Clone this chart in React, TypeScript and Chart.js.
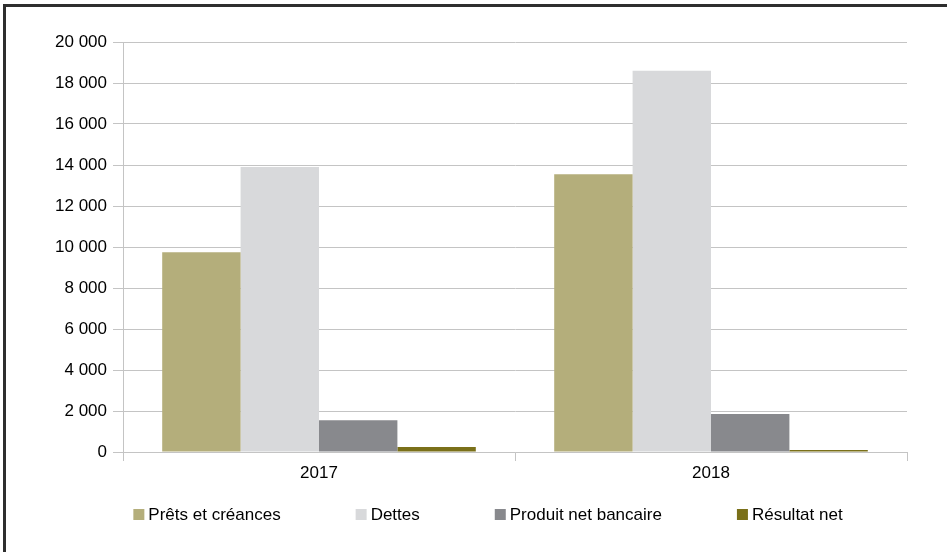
import React, { useEffect, useRef } from "react";
import { Chart, registerables } from "chart.js";

Chart.register(...registerables);

const categories = ["2017", "2018"];
const pretsEtCreances = [9750, 13550];
const dettes = [13900, 18600];
const produitNetBancaire = [1550, 1850];
const resultatNet = [240, 100];
const seriesLabels = ["Prêts et créances", "Dettes", "Produit net bancaire", "Résultat net"];
const seriesColors = ["#b4ae7b", "#d8d9db", "#88898d", "#7a7019"];

const FONT = '"Liberation Sans", Arial, sans-serif';

const fmt = (v: number) => String(v).replace(/\B(?=(\d{3})+(?!\d))/g, " ");

const customLegend = {
  id: "customLegend",
  afterDraw(chart: any) {
    const ctx = chart.ctx;
    ctx.save();
    ctx.font = `17px ${FONT}`;
    ctx.textBaseline = "middle";
    const box = 11;
    const boxGap = 4;
    const itemGap = 75;
    const items = chart.data.datasets.map((d: any) => ({
      label: d.label,
      color: d.backgroundColor,
      w: box + boxGap + ctx.measureText(d.label).width,
    }));
    const total = items.reduce((s: number, it: any) => s + it.w, 0) + itemGap * (items.length - 1);
    let x = 488 - total / 2;
    const y = 515;
    for (const it of items) {
      ctx.fillStyle = it.color;
      ctx.fillRect(x, y - 6, box, box);
      ctx.fillStyle = "#000";
      ctx.fillText(it.label, x + box + boxGap, y);
      x += it.w + itemGap;
    }
    ctx.restore();
  },
};

export default function App() {
  const ref = useRef<HTMLCanvasElement | null>(null);
  useEffect(() => {
    if (!ref.current) return;
    const values = [pretsEtCreances, dettes, produitNetBancaire, resultatNet];
    const chart = new Chart(ref.current, {
      type: "bar",
      data: {
        labels: categories,
        datasets: values.map((v, i) => ({
          label: seriesLabels[i],
          data: v,
          backgroundColor: seriesColors[i],
          borderWidth: 0,
          categoryPercentage: 0.8,
          barPercentage: 1.0,
        })),
      },
      options: {
        animation: false,
        responsive: false,
        maintainAspectRatio: false,
        layout: { padding: { left: 0, right: 40, top: 42, bottom: 60 } },
        plugins: { legend: { display: false }, tooltip: { enabled: false } },
        scales: {
          x: {
            offset: true,
            grid: {
              offset: true,
              drawOnChartArea: true,
              color: (c: any) => (c.index === 2 ? "#c4c4c4" : "rgba(0,0,0,0)"),
              tickColor: "#c4c4c4",
              tickLength: 9,
              lineWidth: 1,
            },
            border: { color: "#c4c4c4", width: 1 },
            ticks: { color: "#000", font: { family: FONT, size: 17 }, padding: 2 },
            afterFit: (s: any) => {
              s.height = 40;
            },
          },
          y: {
            min: 0,
            max: 20000,
            ticks: {
              stepSize: 2000,
              color: "#000",
              font: { family: FONT, size: 17 },
              padding: 6,
              callback: (v: any) => fmt(Number(v)),
            },
            grid: { color: "#c4c4c4", tickLength: 10, lineWidth: 1 },
            border: { color: "#c4c4c4", width: 1 },
            afterFit: (s: any) => {
              s.width = 123;
            },
          },
        },
      },
      plugins: [customLegend],
    } as any);
    return () => chart.destroy();
  }, []);

  return (
    <div style={{ position: "fixed", left: 0, top: 0, width: 947, height: 552, overflow: "hidden", background: "#fff" }}>
      <canvas ref={ref} width={947} height={552} style={{ position: "absolute", left: 0, top: 0, width: 947, height: 552 }} />
      <div
        style={{
          position: "absolute",
          left: 3,
          top: 4,
          width: 1200,
          height: 1200,
          borderLeft: "3px solid #2e2e2e",
          borderTop: "3px solid #2e2e2e",
          boxSizing: "border-box",
          pointerEvents: "none",
        }}
      />
    </div>
  );
}
